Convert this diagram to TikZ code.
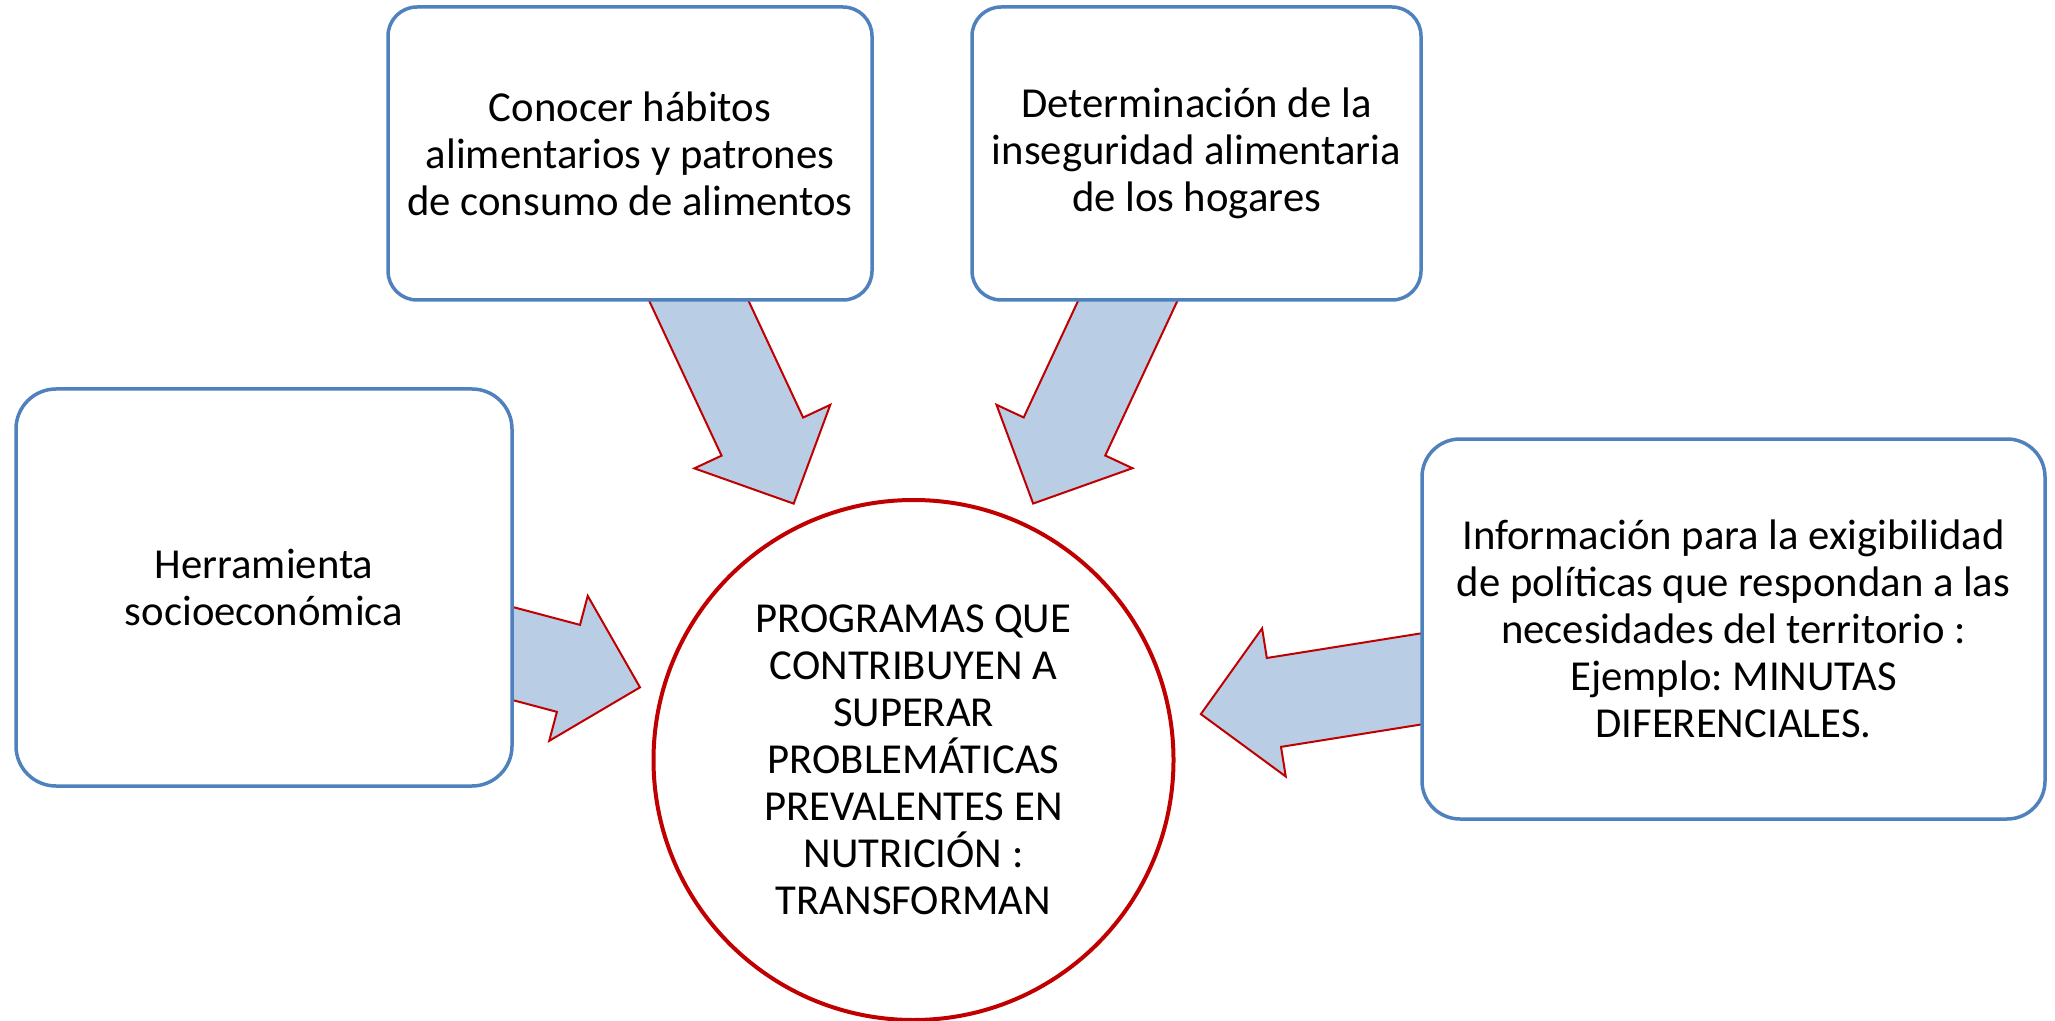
\documentclass[tikz,border=0pt]{standalone}
\usepackage{fontspec}
\setmainfont{Carlito}
\usetikzlibrary{calc}
\frenchspacing
\pgfdeclarelayer{bg}
\pgfsetlayers{bg,main}
\definecolor{boxblue}{HTML}{4F81BD}
\definecolor{arrowfill}{HTML}{B9CDE5}
\definecolor{darkred}{HTML}{C00000}

% block arrow from #1 (tail) to #2 (tip)
\newcommand\blockarrow[2]{%
  \coordinate (hb) at ($(#2)!37pt!(#1)$);
  \draw[arrowbody] ($(#1)!22.5pt!90:(#2)$) -- ($(hb)!22.5pt!90:(#2)$)
    -- ($(hb)!37.5pt!90:(#2)$) -- (#2) -- ($(hb)!37.5pt!-90:(#2)$)
    -- ($(hb)!22.5pt!-90:(#2)$) -- ($(#1)!22.5pt!-90:(#2)$) -- cycle;}

\begin{document}
\begin{tikzpicture}
  [x=0.5pt,y=-0.5pt,
   every node/.style={align=center,inner sep=0pt,font=\fontsize{21.35}{23.5}\selectfont},
   box/.style={draw=boxblue,line width=1.75pt,fill=white,rounded corners=14.5pt},
   arrowbody/.style={draw=darkred,line width=1pt,fill=arrowfill}]
  \useasboundingbox (0,0) rectangle (2055,1021);
  \node[box,minimum width=242pt,minimum height=146.5pt] (habitos) at (630,153.5)
    {Conocer hábitos\\alimentarios y patrones\\de consumo de alimentos};
  \node[box,minimum width=224.5pt,minimum height=146.5pt] (inseg) at (1196.5,153.5)
    {Determinación de la\\inseguridad alimentaria\\de los hogares};
  \node[box,minimum width=248pt,minimum height=198.5pt,rounded corners=20pt] (herr) at (264,587.5)
    {Herramienta\\socioeconómica};
  \node[box,minimum width=311.5pt,minimum height=190pt,rounded corners=19pt] (info) at (1733.5,629)
    {Información para la exigibilidad\\de políticas que respondan a las\\necesidades del territorio :\\Ejemplo: MINUTAS\\DIFERENCIALES.};
  \node[circle,draw=darkred,line width=2pt,fill=white,minimum size=260pt] (prog) at (913.5,760)
    {PROGRAMAS QUE\\CONTRIBUYEN A\\SUPERAR\\PROBLEMÁTICAS\\PREVALENTES EN\\NUTRICIÓN :\\TRANSFORMAN};

  \begin{pgfonlayer}{bg}
    \foreach \from/\gap in {habitos/141.5pt,inseg/141.5pt,herr/141.5pt,info/145.5pt} {
      \coordinate (tip) at ($(prog.center)!\gap!(\from)$);
      \blockarrow{\from}{tip}
    }
  \end{pgfonlayer}
\end{tikzpicture}
\end{document}
